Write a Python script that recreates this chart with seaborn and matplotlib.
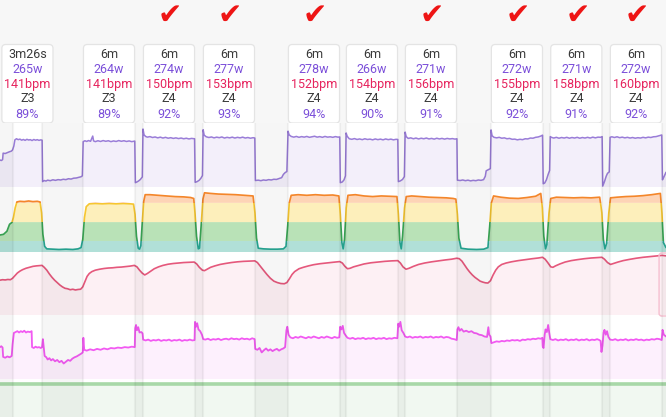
import numpy as np
import matplotlib
matplotlib.use("Agg")
import matplotlib.pyplot as plt
import seaborn as sns
from matplotlib.patches import FancyBboxPatch, Rectangle

# ---------------- data ----------------
work_start = [1.48, 9.58, 16.50, 23.42, 33.23, 39.92, 46.73, 56.65, 63.50, 70.38]
work_end = [4.85, 15.58, 22.50, 29.42, 39.23, 45.92, 52.73, 62.65, 69.50, 76.38]
card_dur = ["3m26s", "6m", "6m", "6m", "6m", "6m", "6m", "6m", "6m", "6m"]
card_watts = ["265w", "264w", "274w", "277w", "278w", "266w", "271w", "272w", "271w", "272w"]
card_bpm = ["141bpm", "141bpm", "150bpm", "153bpm", "152bpm", "154bpm", "156bpm", "155bpm", "158bpm", "160bpm"]
card_zone = ["Z3", "Z3", "Z4", "Z4", "Z4", "Z4", "Z4", "Z4", "Z4", "Z4"]
card_pct = ["89%", "89%", "92%", "93%", "94%", "90%", "91%", "92%", "91%", "92%"]
card_check = [False, False, True, True, True, False, True, True, True, True]

power = [
(0.00,150),(0.15,147),(0.30,152),(0.36,188),(0.6,186),(0.85,191),(1.1,196),(1.3,199),(1.45,206),(1.6,228),(1.72,262),
(1.9,268),(2.1,263),(2.3,266),(2.5,260),(2.7,264),(2.9,259),(3.1,265),(3.3,261),(3.5,263),(3.7,258),(3.9,264),(4.1,260),(4.3,263),(4.5,259),(4.7,262),(4.86,260),
(4.92,30),(5.1,36),(5.3,33),(5.5,38),(5.8,35),(6.1,40),(6.4,37),(6.7,41),(7.0,39),(7.3,43),(7.6,41),(7.9,46),(8.2,44),(8.5,49),(8.8,50),(9.1,54),(9.35,57),(9.5,62),
(9.6,252),(9.8,257),(10.0,253),(10.2,258),(10.45,254),(10.7,283),(10.8,256),(11.0,252),(11.3,257),(11.6,253),(11.9,258),(12.2,254),(12.5,257),(12.8,252),(13.1,256),(13.4,253),(13.7,258),(14.0,254),(14.3,257),(14.6,253),(14.9,256),(15.2,252),(15.55,255),
(15.62,24),(15.8,28),(16.0,34),(16.2,42),(16.42,56),
(16.5,322),(16.62,290),(16.8,281),(17.0,277),(17.3,280),(17.6,275),(17.9,278),(18.2,273),(18.5,277),(18.8,272),(19.1,276),(19.4,271),(19.7,274),(20.0,270),(20.3,273),(20.6,269),(20.9,272),(21.2,268),(21.5,271),(21.8,267),(22.1,270),(22.45,268),
(22.52,26),(22.75,30),(23.0,38),(23.2,50),(23.36,64),
(23.44,318),(23.56,288),(23.8,279),(24.1,275),(24.4,278),(24.7,273),(25.0,277),(25.3,274),(25.6,278),(25.9,272),(26.2,276),(26.5,273),(26.8,277),(27.1,272),(27.4,276),(27.7,273),(28.0,277),(28.3,272),(28.6,275),(28.9,271),(29.2,274),(29.4,272),
(29.47,36),(29.8,38),(30.1,35),(30.4,39),(30.7,37),(31.0,41),(31.3,39),(31.6,43),(31.9,42),(32.2,47),(32.5,52),(32.7,70),(32.9,80),(33.1,86),
(33.24,310),(33.36,290),(33.6,281),(33.9,277),(34.2,281),(34.5,276),(34.8,280),(35.1,277),(35.4,281),(35.7,276),(36.0,279),(36.3,282),(36.6,277),(36.9,280),(37.2,276),(37.5,281),(37.8,277),(38.1,279),(38.4,276),(38.7,280),(39.0,277),(39.2,278),
(39.27,24),(39.5,28),(39.7,40),(39.86,62),
(39.94,300),(40.06,282),(40.3,268),(40.6,265),(40.9,269),(41.2,264),(41.5,267),(41.8,263),(42.1,268),(42.4,264),(42.7,266),(43.0,262),(43.3,267),(43.6,263),(43.9,266),(44.2,262),(44.5,267),(44.8,263),(45.1,266),(45.4,262),(45.7,265),(45.9,264),
(45.97,30),(46.2,34),(46.45,42),(46.66,58),
(46.75,305),(46.87,280),(47.1,270),(47.4,273),(47.7,268),(48.0,272),(48.3,267),(48.6,271),(48.9,268),(49.2,272),(49.5,267),(49.8,270),(50.1,266),(50.4,271),(50.7,267),(51.0,270),(51.3,266),(51.6,270),(51.9,267),(52.2,269),(52.5,266),(52.72,268),
(52.78,38),(53.1,36),(53.4,39),(53.7,35),(54.0,38),(54.3,34),(54.6,37),(54.9,35),(55.2,39),(55.5,37),(55.8,41),(56.0,60),(56.1,90),(56.35,96),(56.58,102),
(56.66,317),(56.78,285),(57.0,276),(57.3,273),(57.6,276),(57.9,271),(58.2,273),(58.5,268),(58.8,270),(59.1,265),(59.4,266),(59.7,262),(60.0,265),(60.3,263),(60.6,268),(60.9,267),(61.2,272),(61.5,271),(61.8,276),(62.1,278),(62.4,283),(62.6,288),
(62.68,18),(62.85,22),(63.05,40),(63.25,70),(63.42,92),
(63.5,280),(63.62,276),(63.9,272),(64.2,276),(64.5,271),(64.8,275),(65.1,272),(65.4,276),(65.7,271),(66.0,275),(66.3,272),(66.6,276),(66.9,271),(67.2,275),(67.5,272),(67.8,276),(68.1,272),(68.4,277),(68.7,273),(69.0,277),(69.3,276),(69.48,280),
(69.55,5),(69.75,30),(69.95,60),(70.1,76),(70.3,84),
(70.4,276),(70.6,279),(70.9,275),(71.2,279),(71.5,274),(71.8,277),(72.1,273),(72.4,276),(72.7,272),(73.0,275),(73.3,271),(73.6,274),(73.9,272),(74.2,276),(74.5,273),(74.8,277),(75.1,275),(75.4,279),(75.7,280),(76.0,284),(76.25,287),(76.36,289),
(76.44,40),(76.6,55),(76.85,82),
]

zone_levels = [0, 17.5, 47.5, 78, 100]
zone = [
(0.0,27),(0.4,28),(0.8,33),(1.1,44),(1.38,47),(1.55,55),(1.75,70),(1.95,79.5),(2.3,80.5),(2.8,80),(3.3,81),(3.8,80),(4.3,80.5),(4.62,79.5),(4.8,62),(4.95,28),(5.15,9),(5.4,5),(6.0,4.5),(6.8,4),(7.6,4.5),(8.4,4),(9.0,5),(9.35,7),(9.55,20),(9.75,55),(9.95,72),(10.3,76.5),(11.0,77),(11.8,76.5),(12.6,77),(13.4,76.5),(14.2,77),(15.0,76.5),(15.4,76),
(15.58,60),(15.75,25),(15.95,6),(16.1,4.5),(16.25,10),(16.42,48),(16.58,80),(16.75,91),(17.3,91),(18.2,90),(19.2,89),(20.2,88),(21.2,87.5),(22.0,86.5),(22.35,85),(22.5,62),(22.68,25),(22.88,5),(23.02,6),(23.2,40),(23.42,84),(23.6,94),(24.3,93),(25.2,92),(26.2,91.5),(27.2,91),(28.2,90),(29.2,89),
(29.42,62),(29.6,22),(29.8,6),(30.4,5),(31.2,4.5),(32.0,4.5),(32.7,5),(33.0,9),(33.2,42),(33.38,78),(33.6,90),(34.4,91),(35.4,90),(36.4,91),(37.4,90),(38.4,90.5),(39.1,89),(39.27,60),(39.45,15),(39.6,5),(39.75,20),(39.95,70),(40.15,90),(41.0,91),(42.0,89),(43.0,88),(44.0,89),(45.0,88.5),(45.8,88),
(45.97,60),(46.15,15),(46.3,5),(46.45,25),(46.68,70),(46.88,88),(47.5,89),(48.5,88),(49.5,87),(50.5,86.5),(51.5,86),(52.3,85),(52.6,84),(52.78,60),(52.95,22),(53.2,6),(54.0,4.5),(55.0,4),(55.8,4.5),(56.3,7),(56.5,40),(56.7,78),(56.95,89),(57.8,87),(58.8,85.5),(59.8,85),(60.8,86.5),(61.8,88.5),(62.4,93),
(62.58,70),(62.75,25),(62.95,5),(63.1,12),(63.35,62),(63.55,85),(64.2,87),(65.2,86.5),(66.2,86),(67.2,86.5),(68.2,86),(69.2,87),(69.45,62),(69.62,20),(69.8,5),(70.0,14),(70.25,62),(70.45,86),(71.2,87),(72.2,88),(73.2,88.5),(74.2,89.5),(75.2,91),(76.2,93),(76.38,62),(76.55,15),(76.85,7),
]

heart_rate = [
(0.0,113),(0.3,114),(0.6,113.5),(0.9,114.5),(1.2,114),(1.45,117),(1.7,122),(2.0,128),(2.3,132),(2.6,135),(3.0,138),(3.4,140),(3.8,142),(4.2,143),(4.6,143.5),(4.85,144),(5.1,140),(5.4,134),(5.7,126),(6.0,119),(6.3,113),(6.6,108),(6.9,103),(7.2,99),(7.5,96),(7.8,95),(8.1,93),(8.4,94),(8.7,92.5),(9.0,93.5),(9.3,94),
(9.55,99),(9.8,110),(10.05,121),(10.3,127),(10.6,131),(11.0,134),(11.5,136),(12.0,137.5),(12.5,138.5),(13.0,139),(13.5,140),(14.0,140.5),(14.5,141.5),(15.0,142.5),(15.5,144),(15.8,141),(16.1,134),(16.4,128),(16.7,124),(17.0,127),(17.4,132),(17.8,137),(18.3,141),(18.8,144),(19.4,146.5),(20.0,148),(20.6,149),(21.2,150),(21.8,150.5),(22.4,151),
(22.7,147),(23.0,140),(23.35,134),(23.6,133),(23.9,136),(24.3,140),(24.8,143),(25.4,146),(26.0,148),(26.7,150),(27.4,151.5),(28.1,152.5),(28.8,153),(29.4,153.5),(29.7,150),(30.0,143),(30.4,134),(30.8,125),(31.2,117),(31.6,111),(32.0,108),(32.4,106),(32.8,105.5),(33.1,108),(33.4,116),(33.7,125),(34.0,131),(34.5,137),(35.0,140),(35.6,143),(36.2,145.5),(36.9,147.5),(37.6,149),(38.4,150.5),(39.2,152),
(39.5,149),(39.8,142),(40.1,137),(40.4,138),(40.8,141),(41.4,144),(42.0,147),(42.8,149.5),(43.6,151),(44.4,152.5),(45.2,153.5),(45.9,154),(46.2,149),(46.5,141),(46.85,136),(47.2,138),(47.7,142),(48.3,146),(49.0,149),(49.8,151.5),(50.6,153.5),(51.4,155.5),(52.1,157),(52.7,159),
(53.0,158),(53.3,153),(53.6,145),(53.9,137),(54.2,130),(54.5,124),(54.8,119),(55.1,115),(55.4,111),(55.7,109),(56.0,107.5),(56.3,107),(56.6,112),(56.9,124),(57.2,134),(57.5,141),(57.9,146),(58.4,149),(59.0,151.5),(59.8,154),(60.6,156),(61.4,158),(62.1,159.5),(62.6,161),
(62.9,157),(63.2,150),(63.55,141),(63.8,140),(64.1,143),(64.6,147),(65.2,151),(65.9,154),(66.6,156),(67.4,158),(68.2,159.5),(69.0,160.5),(69.45,161),(69.75,157),(70.1,150),(70.45,146),(70.8,148),(71.3,151),(71.9,154),(72.6,156.5),(73.4,159),(74.2,161),(75.0,162.5),(75.8,164),(76.4,165),(76.85,164),
]

cadence = [
(0.0,72),(0.15,74),(0.3,71),(0.36,50),(0.6,48),(0.85,51),(1.1,49),(1.35,52),(1.45,78),(1.6,104),(1.8,106),(2.0,108),(2.2,105),(2.4,108),(2.6,106),(2.8,109),(3.0,105),(3.2,107),(3.45,106),(3.65,108),(3.7,72),(3.9,70),(4.1,73),(4.3,71),(4.5,72),(4.7,70),(4.85,72),(4.95,90),(5.05,70),
(5.15,52),(5.35,49),(5.5,44),(5.7,47),(5.9,42),(6.1,45),(6.35,40),(6.6,43),(6.85,38),(7.1,41),(7.35,35),(7.6,39),(7.85,43),(8.1,41),(8.35,46),(8.6,49),(8.85,51),(9.1,54),(9.35,57),(9.55,60),(9.62,93),(9.72,66),
(10.0,64),(10.4,67),(10.8,65),(11.2,68),(11.6,66),(12.0,69),(12.4,67),(12.8,70),(13.2,69),(13.6,71),(14.0,70),(14.4,72),(14.8,71),(15.2,73),(15.55,72),
(15.6,115),(15.7,122),(15.8,110),(15.95,117),(16.1,105),(16.3,106),(16.45,103),(16.52,89),(16.8,87),(17.1,89),(17.4,86),(17.7,88),(18.0,87),(18.3,89),(18.6,86),(18.9,88),(19.2,87),(19.5,89),(19.8,86),(20.1,88),(20.4,87),(20.7,89),(21.0,86),(21.3,88),(21.6,87),(21.9,89),(22.2,87),(22.45,88),
(22.5,129),(22.62,118),(22.75,126),(22.9,112),(23.1,108),(23.3,100),(23.45,90),(23.7,89),(24.0,91),(24.3,88),(24.6,90),(24.9,89),(25.2,91),(25.5,88),(25.8,90),(26.1,91),(26.4,89),(26.7,92),(27.0,90),(27.3,91),(27.6,89),(27.9,92),(28.2,90),(28.5,91),(28.8,89),(29.1,92),(29.38,90),
(29.45,68),(29.7,66),(29.95,70),(30.2,60),(30.45,65),(30.7,69),(30.95,64),(31.2,67),(31.45,63),(31.7,66),(31.95,68),(32.2,64),(32.45,67),(32.7,69),(32.9,72),(33.05,110),(33.15,118),(33.3,100),
(33.5,94),(33.8,92),(34.1,95),(34.4,93),(34.7,96),(35.0,94),(35.3,92),(35.6,95),(35.9,93),(36.2,96),(36.5,94),(36.8,92),(37.1,95),(37.4,93),(37.7,96),(38.0,94),(38.3,92),(38.6,95),(38.9,93),(39.15,94),
(39.25,118),(39.4,112),(39.55,120),(39.7,104),(39.9,98),(40.1,93),(40.4,91),(40.7,93),(41.0,90),(41.3,92),(41.6,91),(41.9,93),(42.2,90),(42.5,92),(42.8,91),(43.1,93),(43.4,90),(43.7,92),(44.0,91),(44.3,93),(44.6,90),(44.9,92),(45.2,91),(45.5,93),(45.85,92),
(45.95,125),(46.05,118),(46.2,129),(46.35,110),(46.55,104),(46.75,96),(47.0,94),(47.3,96),(47.6,93),(47.9,95),(48.2,94),(48.5,96),(48.8,93),(49.1,95),(49.4,94),(49.7,96),(50.0,93),(50.3,95),(50.6,94),(50.9,96),(51.2,93),(51.5,95),(51.8,94),(52.1,91),(52.4,90),(52.7,88),
(52.78,112),(52.9,117),(53.05,109),(53.25,113),(53.5,107),(53.8,109),(54.1,106),(54.4,108),(54.7,104),(55.0,103),(55.3,100),(55.6,99),(55.9,96),(56.2,95),(56.35,117),(56.45,100),(56.6,96),
(56.7,81),(57.0,83),(57.3,85),(57.6,84),(57.9,86),(58.2,85),(58.5,87),(58.8,86),(59.1,88),(59.4,87),(59.7,88),(60.0,86),(60.3,89),(60.6,88),(60.9,90),(61.2,89),(61.5,91),(61.8,90),(62.1,92),(62.4,91),(62.58,93),
(62.62,74),(62.72,70),(62.85,100),(62.95,112),(63.1,106),(63.25,122),(63.38,104),
(63.5,90),(63.8,88),(64.1,90),(64.4,87),(64.7,89),(65.0,88),(65.3,90),(65.6,87),(65.9,89),(66.2,88),(66.5,90),(66.8,87),(67.1,89),(67.4,88),(67.7,90),(68.0,87),(68.3,89),(68.6,88),(68.9,90),(69.15,88),(69.3,86),
(69.4,61),(69.52,75),(69.65,105),(69.75,111),(69.9,100),(70.05,108),(70.2,95),
(70.4,89),(70.7,88),(71.0,90),(71.3,87),(71.6,89),(71.9,88),(72.2,90),(72.5,87),(72.8,89),(73.1,88),(73.4,90),(73.7,88),(74.0,89),(74.3,87),(74.6,89),(74.9,88),(75.2,90),(75.5,89),(75.8,91),(76.1,90),(76.35,88),
(76.45,111),(76.6,100),(76.85,96),
]

balance_t = [0.0, 76.85]
balance_v = [94, 94]

# ---------------- styling ----------------
sns.set_theme(style="white")
plt.rcParams["font.family"] = ["Roboto", "DejaVu Sans"]

W, H = 666, 417
XMAX = 76.85
fig = plt.figure(figsize=(W / 100, H / 100), dpi=100, facecolor="#f7f7f7")


def px_axes(top, bottom):
    ax = fig.add_axes([0, 1 - bottom / H, 1, (bottom - top) / H])
    ax.set_axis_off()
    return ax


# white background of the chart area
bg = fig.add_axes([0, 0, 1, (H - 123) / H])
bg.set_facecolor("white")
bg.set_xticks([]); bg.set_yticks([])
for s in bg.spines.values():
    s.set_visible(False)


def series_panel(ax, pts, base, ylim, fill, line, lw=1.2):
    t = np.array([p[0] for p in pts]); v = np.array([p[1] for p in pts])
    ax.fill_between(t, base, v, color=fill, lw=0)
    sns.lineplot(x=t, y=v, ax=ax, color=line, linewidth=lw, estimator=None, sort=False)
    ax.set_xlim(0, XMAX); ax.set_ylim(*ylim)
    ax.set_axis_off()


# power
axp = px_axes(124, 187)
series_panel(axp, power, 0, (0, 350), "#f3effa", "#9a7dd8", lw=1.1)

# zones
axz = px_axes(189, 252)
zt = np.array([p[0] for p in zone]); zv = np.array([p[1] for p in zone])
band_fill = ["#b1e0d8", "#b9e2b7", "#fdefbb", "#fdd4b6"]
band_line = ["#26a693", "#3aa655", "#f6c630", "#f4862a"]
for i in range(4):
    lo, hi = zone_levels[i], zone_levels[i + 1]
    axz.fill_between(zt, lo, np.minimum(zv, hi), where=zv > lo, interpolate=True,
                     color=band_fill[i], lw=0)
for i in range(4):
    lo, hi = zone_levels[i], zone_levels[i + 1]
    n0 = len(axz.lines)
    sns.lineplot(x=zt, y=zv, ax=axz, color=band_line[i], linewidth=1.2, estimator=None, sort=False)
    clo = -10 if i == 0 else lo
    chi = 200 if i == 3 else hi
    for ln in axz.lines[n0:]:
        ln.set_clip_path(Rectangle((0, clo), XMAX, chi - clo, transform=axz.transData))
axz.set_xlim(0, XMAX); axz.set_ylim(0, 100); axz.set_axis_off()

# heart rate
axh = px_axes(253, 315)
series_panel(axh, heart_rate, 40, (40, 170), "#fdf0f4", "#e5587c")

# cadence
axc = px_axes(317, 379)
series_panel(axc, cadence, 0, (0, 140), "#fdf0fd", "#f25af2", lw=1.3)

# bottom panel
axg = px_axes(382, 417)
bt = np.array(balance_t); bv = np.array(balance_v)
axg.fill_between(bt, 0, bv, color="#f1f8f1", lw=0)
sns.lineplot(x=bt, y=bv, ax=axg, color="#a8d8a8", linewidth=2.6, estimator=None)
axg.set_xlim(0, XMAX); axg.set_ylim(0, 100); axg.set_axis_off()

# rest-period overlay
axo = px_axes(123, 417)
axo.set_xlim(0, XMAX); axo.set_ylim(417, 123)
rest_a = [0.0] + work_end
rest_b = work_start + [XMAX]
for a, b in zip(rest_a, rest_b):
    axo.axvspan(a, b, color="black", alpha=0.035, lw=0)
for x in work_start + work_end:
    axo.axvline(x, color="black", alpha=0.045, lw=1.6)
axo.add_patch(FancyBboxPatch((76.05, 253), 1.2, 63, boxstyle="round,pad=0,rounding_size=0.3",
                             mutation_aspect=8.67, fc="none", ec="#f6bfd0", lw=1.0))
axo.set_axis_off()

# header: cards + checks
axhd = px_axes(0, 123)
axhd.set_xlim(0, XMAX); axhd.set_ylim(123, 0)
rows = [(card_dur, "#3a3a3a", 57.5), (card_watts, "#7b4fd9", 73), (card_bpm, "#e6245e", 88),
        (card_zone, "#3a3a3a", 102.5), (card_pct, "#7b4fd9", 117.5)]
for i in range(len(work_start)):
    cx = (work_start[i] + work_end[i]) / 2
    axhd.add_patch(FancyBboxPatch((cx - 2.95, 44.5), 5.9, 78.5,
                                  boxstyle="round,pad=0,rounding_size=0.45", mutation_aspect=8.67,
                                  fc="white", ec="#e4e4e4", lw=0.9))
    for labels, col, yb in rows:
        axhd.text(cx, yb, labels[i], ha="center", va="baseline", fontsize=9, color=col)
    if card_check[i]:
        axhd.text(cx + 0.15, 16, "\u2714", ha="center", va="center", fontsize=21,
                  color="#ee1515", family=["DejaVu Sans"])
axhd.set_axis_off()

fig.savefig("out.png", dpi=100, facecolor=fig.get_facecolor())
